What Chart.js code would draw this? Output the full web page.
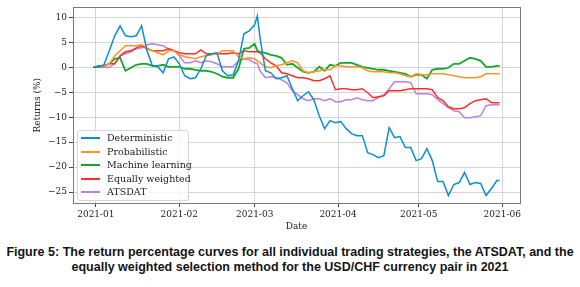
<!DOCTYPE html>
<html>
<head>
<meta charset="utf-8">
<script src="https://cdn.jsdelivr.net/npm/chart.js@4.4.0/dist/chart.umd.min.js"></script>
<style>
    html, body { margin: 0; padding: 0; background: #fff; }
    #marco { position: relative; width: 580px; height: 287px; overflow: hidden; }
    #contenedor { position: absolute; left: 0; top: 0; width: 580px; height: 232px; }
    #leyenda {
        position: absolute; left: 77px; top: 130px; width: 110px; height: 69px;
        border: 1px solid #d6d6d6; border-radius: 3px; background: rgba(255,255,255,0.8);
        font-family: "DejaVu Serif", serif; font-size: 9.5px; color: #222;
    }
    .fila { position: absolute; left: 0; height: 12px; line-height: 12px; white-space: nowrap; }
    .muestra { position: absolute; left: 3px; top: 5px; width: 19px; height: 2px; }
    .texto { position: absolute; left: 29px; top: 0; }
    #pie {
        position: absolute; left: 0; top: 245px; width: 580px; text-align: center;
        font-family: "Liberation Sans", Arial, sans-serif; font-weight: bold; font-size: 12.5px;
        line-height: 14.5px; color: #141414;
    }
</style>
</head>
<body>
<div id="marco">
    <div id="contenedor"><canvas id="graficoRetornos"></canvas></div>
    <div id="leyenda"></div>
    <div id="pie">Figure 5: The return percentage curves for all individual trading strategies, the ATSDAT, and the<br>equally weighted selection method for the USD/CHF currency pair in 2021</div>
</div>
<script>
// dias desde 2021-01-01
const dias = [-1, 1, 3, 5, 7, 9, 11, 13, 15, 17, 19, 21, 23, 25, 27, 29, 31, 33, 35, 37,
    39, 41, 43, 45, 47, 49, 51, 53, 55, 57, 59, 60, 61, 63, 65, 67, 69, 71, 73, 75,
    77, 79, 81, 83, 85, 87, 89, 91, 93, 95, 97, 99, 101, 103, 105, 107, 109, 111, 113, 115,
    117, 119, 121, 123, 125, 127, 129, 131, 133, 135, 137, 139, 141, 143, 145, 147, 149, 150];

const deterministic = [0, 0, 0.5, 3.3, 6.3, 8.3, 6.3, 6.1, 6.3, 8.3, 3.3, 0.3, 0.1, -1.1, 1.7, 2.1, 0.7, -1.7, -2.3, -2.1,
    -0.3, 2.3, 2.7, 2.9, -0.7, -1.7, -1.5, 1.3, 6.7, 7.3, 8.5, 10.3, 5.9, -0.7, -1.1, -2.3, -2.1, -1.7, -4.3, -6.7,
    -5.7, -4.9, -6.5, -9.7, -12.3, -10.7, -11.1, -10.9, -12.3, -13.3, -13.7, -13.7, -17.1, -17.5, -18.1, -17.7, -12.1, -14.1, -13.9, -16.1,
    -16.1, -18.7, -18.3, -16.3, -18.7, -22.9, -22.9, -25.7, -23.5, -23.1, -21.1, -23.5, -23.1, -23.3, -25.7, -24.3, -22.7, -22.7];

const probabilistic = [0, 0, 0.3, 0.7, 2.3, 3.3, 4.3, 4.3, 4.3, 4.5, 3.9, 3.3, 2.9, 2.5, 3.3, 3.3, 2.5, 2.1, 1.9, 1.7,
    2.1, 2.3, 2.5, 2.7, 3.3, 3.3, 3.3, 2.1, 1.7, 1.9, 1.7, 1.3, 0.9, 0.1, -0.1, 0.3, 0.5, 0.9, 1.3, 0.9,
    -0.7, -1.1, -0.9, -0.7, -0.5, -0.5, 0.3, 0.3, 0.1, 0.1, 0.1, -0.1, -0.7, -0.9, -0.9, -0.9, -1.1, -1.1, -1.3, -1.7,
    -1.9, -1.3, -1.5, -1.5, -1.3, -1.3, -1.3, -1.5, -1.7, -1.9, -2.1, -2.1, -2.1, -1.9, -1.3, -1.3, -1.3, -1.3];

const machineLearning = [0, 0.3, 0.3, 0.7, 1.7, 1.9, -0.7, -0.1, 0.5, 0.7, 0.7, 0.3, 0.3, 0.5, 0.1, 0.1, 0.1, -0.3, -0.3, -0.5,
    -0.7, -0.7, -0.9, -1.3, -1.9, -2.1, -2.1, -0.3, 3.7, 3.9, 4.7, 3.3, 3.1, 2.9, 2.5, 2.3, 1.9, 0.5, 0.7, -0.1,
    -0.9, -1.1, -0.9, 0.1, -0.7, 0.5, 0.3, 0.9, 0.9, 0.9, 0.5, 0.1, -0.1, -0.3, -0.5, -0.5, -0.7, -0.9, -1.1, -1.3,
    -1.9, -1.5, -1.5, -2.3, -0.5, -0.3, -0.3, -0.1, 0.7, 0.7, 1.3, 1.9, 1.7, 1.3, 0.1, 0.1, 0.3, 0.3];

const equallyWeighted = [0, 0, 0.3, 0.7, 0.7, 2.3, 3.1, 3.3, 3.9, 4.3, 3.7, 3.3, 3.3, 3.3, 3.7, 3.3, 2.9, 2.7, 2.7, 2.7,
    3.5, 2.7, 2.7, 2.7, 2.7, 2.7, 2.9, 2.7, 3.3, 3.1, 3.1, 3.1, 2.9, 1.7, 0.9, 0.3, -1.1, -1.3, -1.7, -2.1,
    -2.1, -2.3, -2.7, -2.7, -2.3, -1.7, -4.5, -4.3, -4.3, -4.5, -4.5, -4.3, -5.1, -6.1, -5.9, -5.7, -4.7, -4.7, -4.7, -4.5,
    -4.3, -4.3, -4.3, -4.3, -4.5, -6.1, -6.7, -7.9, -8.3, -8.3, -8.1, -7.3, -6.7, -6.5, -6.3, -7.1, -7.1, -7.1];

const atsdat = [0, 0, 0, 0, 0.7, 2.3, 2.7, 3.1, 3.7, 3.9, 4.5, 4.7, 4.5, 4.3, 3.7, 3.3, 2.3, 0.9, 0.9, 1.3,
    0.9, 1.3, 1.1, 0.7, 0.1, 0.1, 0.1, 1.3, 1.7, 1.5, 0.9, 0.7, -0.7, -2.1, -1.9, -2.1, -2.5, -3.1, -4.7, -5.5,
    -6.3, -6.7, -6.3, -6.3, -6.7, -6.3, -6.9, -6.9, -6.5, -6.5, -6.1, -6.5, -6.7, -6.7, -6.1, -5.5, -4.3, -2.9, -2.9, -2.9,
    -3.1, -5.3, -5.3, -5.3, -5.5, -6.5, -7.3, -8.1, -8.7, -8.9, -10.1, -10.1, -9.9, -9.7, -7.7, -7.5, -7.5, -7.5];

const nomiSerie = ['Deterministic', 'Probabilistic', 'Machine learning', 'Equally weighted', 'ATSDAT'];
const coloriSerie = ['#0a8fd0', '#ff9424', '#12a82a', '#ff2e2e', '#c27fd6'];

const mesiTick = [0, 31, 59, 90, 120, 151];
const etichetteMesi = ['2021-01', '2021-02', '2021-03', '2021-04', '2021-05', '2021-06'];
const valoriY = [-25, -20, -15, -10, -5, 0, 5, 10];

function punti(valori) {
    return dias.map((d, i) => ({ x: d, y: valori[i] }));
}

const fontAssi = { family: 'DejaVu Serif', size: 9 };

// cornice del grafico (tutti e quattro i lati)
const cornice = {
    id: 'cornice',
    afterDraw(chart) {
        const a = chart.chartArea;
        const ctx = chart.ctx;
        ctx.save();
        ctx.strokeStyle = '#7a7a7a';
        ctx.lineWidth = 1;
        ctx.strokeRect(Math.round(a.left) + 0.5, Math.round(a.top) + 0.5, Math.round(a.right - a.left), Math.round(a.bottom - a.top));
        ctx.restore();
    }
};

const serie = [deterministic, probabilistic, machineLearning, equallyWeighted, atsdat];

const ctxRet = document.getElementById('graficoRetornos').getContext('2d');
const graficoRetornos = new Chart(ctxRet, {
    type: 'line',
    data: {
        datasets: serie.map((v, i) => ({
            label: nomiSerie[i],
            data: punti(v),
            borderColor: coloriSerie[i],
            borderWidth: i === 2 ? 1.8 : 1.5,
            pointRadius: 0,
            fill: false,
            tension: 0
        }))
    },
    options: {
        responsive: true,
        maintainAspectRatio: false,
        animation: false,
        layout: { padding: { left: 32, right: 60, top: 7, bottom: 0 } },
        scales: {
            x: {
                type: 'linear',
                min: -8.5,
                max: 157.6,
                afterFit: function (scale) { scale.height = 29; },
                afterBuildTicks: function (scale) {
                    scale.ticks = mesiTick.map(v => ({ value: v }));
                },
                ticks: {
                    font: fontAssi,
                    color: '#222',
                    padding: 2,
                    maxRotation: 0,
                    autoSkip: false,
                    callback: function (value) {
                        return etichetteMesi[mesiTick.indexOf(value)];
                    }
                },
                grid: { color: '#d4d4d4', tickColor: '#444', tickLength: 4 },
                border: { display: false },
                title: { display: true, text: 'Date', font: fontAssi, color: '#222', padding: { top: 0, bottom: 0 } }
            },
            y: {
                min: -27.2,
                max: 12,
                afterFit: function (scale) { scale.width = 41; },
                afterBuildTicks: function (scale) {
                    scale.ticks = valoriY.map(v => ({ value: v }));
                },
                ticks: {
                    font: fontAssi,
                    color: '#222',
                    padding: 2,
                    callback: function (value) {
                        return String(value).replace('-', '\u2212');
                    }
                },
                grid: { color: '#d4d4d4', tickColor: '#444', tickLength: 4 },
                border: { display: false },
                title: { display: true, text: 'Returns (%)', font: fontAssi, color: '#222', padding: { top: 0, bottom: 2 } }
            }
        },
        plugins: {
            legend: { display: false },
            tooltip: { enabled: false }
        }
    },
    plugins: [cornice]
});

// leyenda dentro del area, como en la figura
const leyenda = document.getElementById('leyenda');
graficoRetornos.data.datasets.forEach((ds, i) => {
    const fila = document.createElement('div');
    fila.className = 'fila';
    fila.style.top = (1 + i * 13.5) + 'px';
    fila.innerHTML = '<span class="muestra" style="background:' + ds.borderColor + '"></span><span class="texto">' + ds.label + '</span>';
    leyenda.appendChild(fila);
});
</script>
</body>
</html>
